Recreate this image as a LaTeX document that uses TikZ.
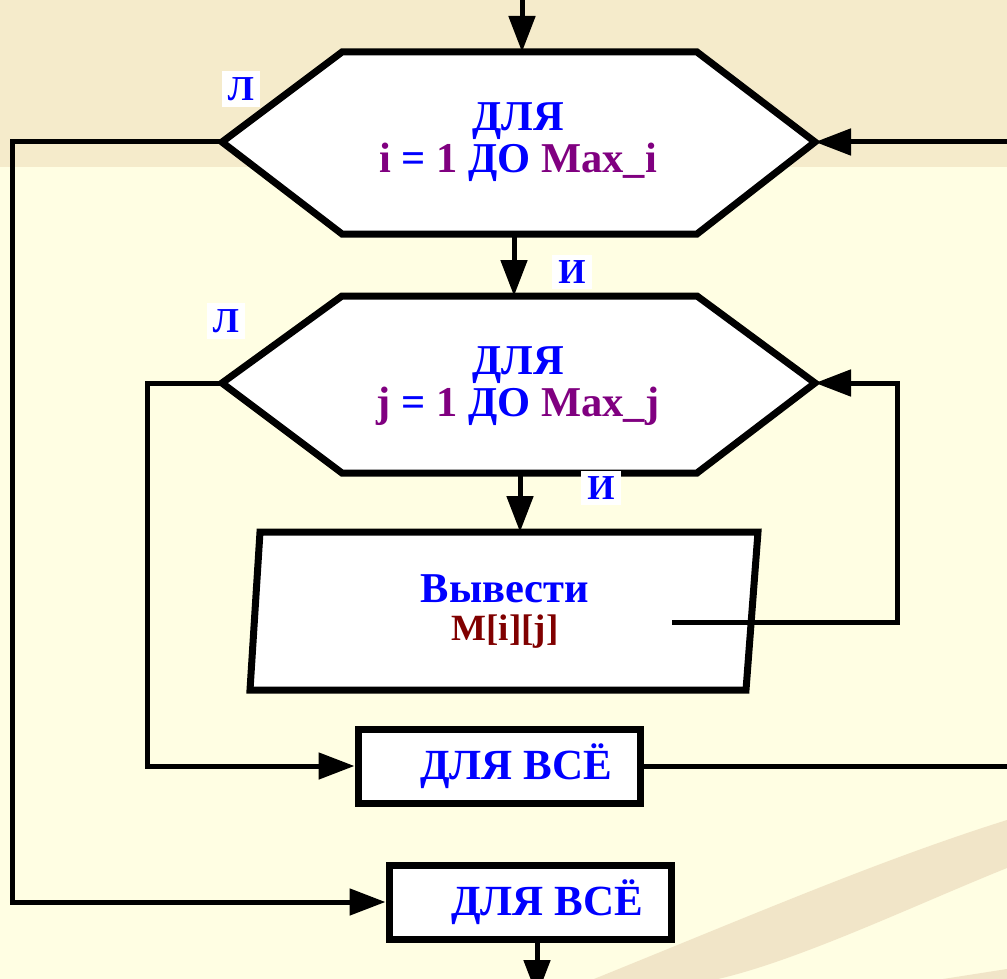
\documentclass[tikz,border=0pt]{standalone}
\usepackage{fontspec}
\setmainfont{Liberation Serif}
\usetikzlibrary{arrows.meta, positioning, calc}

\definecolor{bgtop}{HTML}{F5EBCB}
\definecolor{bgmain}{HTML}{FFFEE3}
\definecolor{swoosh}{HTML}{F1E5C8}
\definecolor{kwblue}{HTML}{0000FF}
\definecolor{varpurple}{HTML}{800080}
\definecolor{valred}{HTML}{800000}

\tikzset{
  hexa/.style={draw=black, fill=white, line width=7pt, line join=miter},
  boxfor/.style={draw=black, fill=white, line width=7pt, minimum width=282pt, minimum height=74pt, inner sep=0pt,
    font=\bfseries\fontsize{43}{43}\selectfont, text=kwblue},
  intext/.style={align=center, font=\bfseries\fontsize{42.5}{42}\selectfont, text=kwblue},
  conn/.style={draw=black, line width=5pt, line join=miter},
  arr/.style={conn, -{Triangle[length=36pt, width=26pt]}},
  yesno/.style={fill=white, inner sep=6pt, font=\bfseries\fontsize{35}{35}\selectfont, text=kwblue}
}

\begin{document}
\begin{tikzpicture}[x=1pt, y=-1pt]
  \useasboundingbox (0,0) rectangle (1007,979);

  % background
  \fill[bgmain] (0,0) rectangle (1007,979);
  \fill[bgtop] (0,0) rectangle (1007,167);
  \fill[swoosh] (594,979) .. controls (757,913) and (880,860) .. (1007,820)
    -- (1007,868) .. controls (915,905) and (800,960) .. (718,979) -- cycle;
  \fill[swoosh] (943,979) -- (1007,969) -- (1007,979) -- cycle;

  % outer loop
  \draw [hexa] (222,142) -- (342,52) -- (697,52) -- (815,142) -- (697,234) -- (342,234) -- cycle; % hexagon i
  \node [intext] (loopi) at (518,142) {ДЛЯ\\\textcolor{varpurple}{i} = \textcolor{varpurple}{1} ДО \textcolor{varpurple}{Max\_i}};
  \coordinate (iN) at (522,52);
  \coordinate (iW) at (222,142);
  \coordinate (iE) at (815,142);
  \coordinate (iS) at (514,234);

  % inner loop
  \draw [hexa] (222,383) -- (342,296) -- (697,296) -- (815,383) -- (697,473) -- (342,473) -- cycle; % hexagon j
  \node [intext] (loopj) at (518,386) {ДЛЯ\\\textcolor{varpurple}{j} = \textcolor{varpurple}{1} ДО \textcolor{varpurple}{Max\_j}};
  \coordinate (jN) at (514,296);
  \coordinate (jW) at (222,383);
  \coordinate (jE) at (815,383);
  \coordinate (jS) at (520,473);

  % output
  \draw [hexa] (260,532) -- (758,532) -- (746,690) -- (250,690) -- cycle; % parallelogram
  \node [intext] (outm) at (505,612) {Вывести\\[-4pt]{\fontsize{37}{38}\selectfont\textcolor{valred}{M[i][j]}}};
  \coordinate (oN) at (520,532);
  \coordinate (oR) at (672,622);

  \node [boxfor] (endj) at (499,766) {\hspace*{34pt}ДЛЯ ВСЁ};
  \node [boxfor] (endi) at (530,902) {\hspace*{34pt}ДЛЯ ВСЁ};

  % helper points
  \coordinate (top) at (522,0);
  \coordinate (rimI) at (1007,142);
  \coordinate (rimJ) at (1007,766);
  \coordinate (farL) at (12,142);
  \coordinate (midL) at (147,383);
  \coordinate (farR) at (897,622);
  \coordinate (bot) at (537,996);

  % connectors
  \draw [arr] (top) -- (iN);
  \draw [arr] (iS) -- (jN);
  \draw [arr] (jS) -- (oN);
  \draw [arr] (rimI) -- (iE);
  \draw [arr] (iW) -- (farL) |- (endi.west);
  \draw [arr] (jW) -- (midL) |- (endj.west);
  \draw [arr] (oR) -- (farR) |- (jE);
  \draw [conn] (endj.east) -- (rimJ);
  \draw [arr] (endi.south -| bot) -- (bot);

  % labels
  \node [yesno] (li) at (241,89) {Л};
  \node [yesno] (yi) at (572,272) {И};
  \node [yesno] (lj) at (226,321) {Л};
  \node [yesno] (yj) at (601,488) {И};
\end{tikzpicture}
\end{document}
